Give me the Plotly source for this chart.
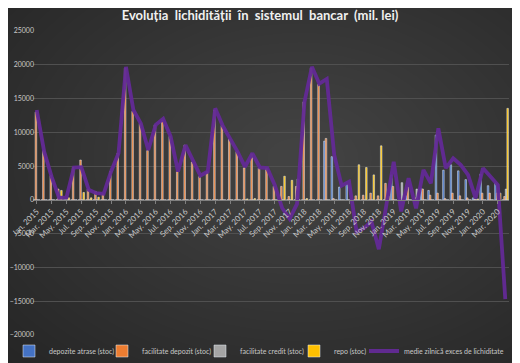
import plotly.graph_objects as go

years = [2015, 2016, 2017, 2018, 2019, 2020]
month_abbr = ["Jan.", "Feb.", "Mar.", "Apr.", "May.", "Jun.", "Jul.", "Aug.", "Sep.", "Oct.", "Nov.", "Dec."]
months = [f"{m} {y}" for y in years for m in month_abbr][:64]

depozite_atrase = [0, 0, 0, 0, 0, 0, 0, 0, 0, 0, 0, 0,
                   0, 0, 0, 0, 0, 0, 0, 0, 0, 0, 0, 0,
                   0, 0, 0, 0, 0, 0, 0, 0, 0, 0, 0, 0,
                   0, 0, 0, 8700, 6400, 1900, 2300, 0, 0, 0, 0, 0,
                   3700, 0, 600, 0, 1700, 1400, 9600, 4400, 5200, 4300, 3000, 300,
                   3800, 2100, 2500, 0]
facilitate_depozit = [13000, 7300, 3600, 1600, 0, 4800, 5900, 1600, 1250, 900, 4200, 6900,
                      19500, 13100, 11300, 7300, 11100, 11800, 9400, 4200, 8100, 5600, 3450, 4200,
                      13300, 11000, 9000, 7150, 4750, 6800, 4700, 4700, 2000, 2000, 500, 2000,
                      14500, 19500, 17100, 9100, 200, 0, 0, 600, 700, 1000, 600, 2450,
                      2000, 300, 1900, 300, 1600, 700, 1000, 200, 1000, 600, 300, 100,
                      1000, 1000, 1000, 500]
facilitate_credit = [0] * 35 + [3100] + [0] * 13 + [2550, 0, 1600] + [0] * 11 + [1600]
repo = [0, 0, 0, 1400, 300, 0, 1100, 300, 400, 0, 0, 0,
        0, 0, 0, 0, 0, 0, 0, 0, 0, 0, 0, 0,
        0, 0, 0, 0, 150, 200, 0, 0, 0, 3500, 2900, 0,
        200, 0, 0, 0, 0, 0, 0, 5200, 4800, 3700, 8000, 600,
        0, 0, 0, 0, 0, 0, 0, 0, 0, 0, 0, 150,
        0, 0, 1000, 13550]
exces_lichiditate = [13300, 7150, 3450, 300, 350, 4800, 4850, 1500, 1000, 900, 4200, 6900,
                     19700, 13300, 11300, 7400, 11100, 12000, 9400, 4200, 8100, 5700, 3600, 4200,
                     13550, 11000, 9100, 7150, 4900, 6900, 4800, 4700, 2200, -1200, -2800, -600,
                     14500, 19700, 17200, 17900, 6650, 2100, 2700, -4700, -4200, -3200, -7300, -700,
                     5650, -1700, 3200, -1250, 4450, 2450, 10600, 4700, 6150, 5200, 3700, 250,
                     4700, 3450, 2200, -14700]

tick_labels = months[::2]

FONT = "Lato"
TXT = "#c8c8c8"

# legend slot widths (px) for each entry
legend_widths = [48, 53, 49, 25, 0]

fig = go.Figure()
fig.add_bar(x=months, y=depozite_atrase, name="depozite atrase (stoc)", marker_color="#4472C4",
            legendwidth=legend_widths[0])
fig.add_bar(x=months, y=facilitate_depozit, name="facilitate depozit (stoc)", marker_color="#ED7D31",
            legendwidth=legend_widths[1])
fig.add_bar(x=months, y=facilitate_credit, name="facilitate credit (stoc)", marker_color="#A5A5A5",
            legendwidth=legend_widths[2])
fig.add_bar(x=months, y=repo, name="repo (stoc)", marker_color="#FFC000",
            legendwidth=legend_widths[3])
fig.add_scatter(x=months, y=exces_lichiditate, mode="lines", name="medie zilnică exces de lichiditate",
                line=dict(color="#632a96", width=3.8), opacity=0.95)

# figure is offset 8px by the page body margin: W/H reduced accordingly
W, H = 512, 355
ML, MR, MT, MB = 25, 11, 23, 28
PW, PH = W - ML - MR, H - MT - MB

# smooth radial background glow
shapes = []
n = 32
cx, cy = 0.56, 0.58
for k in range(n):
    f = 1 - k / n
    rx, ry = 0.9 * f + 0.04, 1.0 * f + 0.04
    shapes.append(dict(type="circle", xref="paper", yref="paper", layer="below",
                       x0=cx - rx, x1=cx + rx, y0=cy - ry, y1=cy + ry,
                       fillcolor="rgba(255,255,255,0.0085)", line=dict(width=0)))

fig.update_layout(
    width=W, height=H,
    paper_bgcolor="#222222", plot_bgcolor="rgba(0,0,0,0)",
    margin=dict(l=ML, r=MR, t=MT, b=MB, autoexpand=False),
    barmode="group", bargap=0.15, bargroupgap=0,
    font=dict(family=FONT, size=9, color=TXT),
    title=dict(text="<b>Evoluția\u00a0 lichidității\u00a0 în\u00a0 sistemul\u00a0 bancar\u00a0 (mil.\u00a0lei)</b>",
               x=252 / W, xanchor="center", y=1 - 7 / H, yanchor="middle",
               font=dict(family=FONT, size=13, color="#f0f0f0")),
    shapes=shapes,
    showlegend=True,
    legend=dict(orientation="h", x=(1 - ML) / PW, xanchor="left",
                y=-16 / PH, yanchor="middle", bgcolor="rgba(0,0,0,0)",
                font=dict(family=FONT, size=7, color=TXT), itemwidth=30),
    xaxis=dict(type="category", categoryorder="array", categoryarray=months,
               tickvals=tick_labels, ticktext=tick_labels, tickangle=-45,
               anchor="free", position=20000 / 45000,
               showline=True, linecolor="#7f7f7f", linewidth=1,
               ticks="outside", ticklen=3, tickcolor="#7f7f7f",
               showgrid=False, tickfont=dict(size=8, color=TXT)),
    yaxis=dict(range=[-20000, 25000], dtick=5000, tickformat="d",
               showgrid=True, gridcolor="#505050", gridwidth=1, zeroline=False,
               showline=False, tickfont=dict(size=7, color=TXT), ticklabelstandoff=-2),
)

fig.write_html("out.html")
